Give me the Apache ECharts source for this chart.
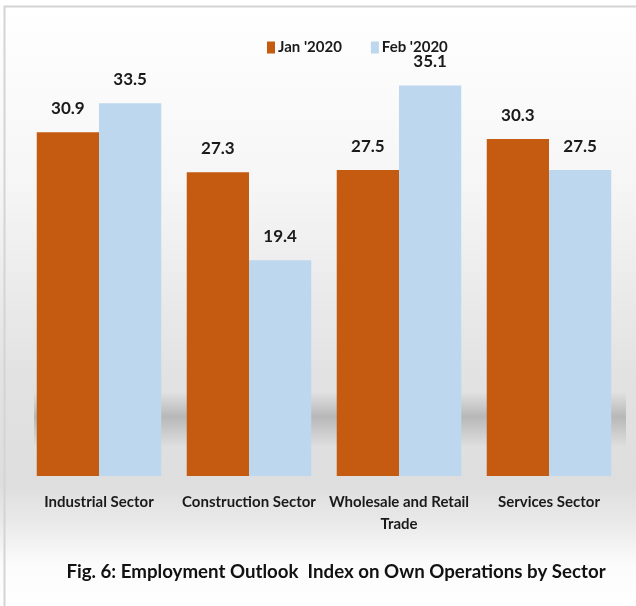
<!DOCTYPE html>
<html>
<head>
<meta charset="utf-8">
<script src="https://cdn.jsdelivr.net/npm/echarts@6/dist/echarts.min.js"></script>
<style>
  html, body { margin: 0; padding: 0; background: #fff; }
  #chart { width: 636px; height: 606px; }
</style>
</head>
<body>
<div id="chart"></div>
<script>
// 数据
const sectors = ['Industrial Sector', 'Construction Sector', 'Wholesale and Retail\nTrade', 'Services Sector'];
const janValues = [30.9, 27.3, 27.5, 30.3];
const febValues = [33.5, 19.4, 35.1, 27.5];
const seriesNames = ["Jan '2020", "Feb '2020"];

const font = 'Lato, "Open Sans", sans-serif';
const chart = echarts.init(document.getElementById('chart'));

const option = {
  backgroundColor: {
    type: 'linear', x: 0, y: 0, x2: 0, y2: 1,
    colorStops: [
      { offset: 0, color: '#ffffff' },
      { offset: 0.3, color: '#f6f6f6' },
      { offset: 0.62, color: '#e2e2e2' },
      { offset: 0.8, color: '#dedede' },
      { offset: 0.86, color: '#e9e9e9' },
      { offset: 0.93, color: '#fbfbfb' },
      { offset: 1, color: '#ffffff' }
    ]
  },
  graphic: [
    // 外边框
    {
      type: 'rect', z: 100, silent: true,
      shape: { x: 4.5, y: 6.5, width: 640, height: 610 },
      style: { fill: 'none', stroke: '#d4d4d4', lineWidth: 2 }
    },
    // 地面阴影带
    {
      type: 'rect', z: -1, silent: true,
      shape: { x: 34, y: 392, width: 592, height: 55 },
      style: {
        fill: {
          type: 'linear', x: 0, y: 0, x2: 0, y2: 1,
          colorStops: [
            { offset: 0, color: 'rgba(150,150,150,0)' },
            { offset: 0.45, color: 'rgba(150,150,150,0.55)' },
            { offset: 1, color: 'rgba(150,150,150,0)' }
          ]
        }
      }
    }
  ],
  title: {
    text: 'Fig. 6: Employment Outlook  Index on Own Operations by Sector',
    left: 331,
    textAlign: 'center',
    top: 557,
    textStyle: { fontFamily: font, fontSize: 18.7, fontWeight: 'bold', color: '#111' }
  },
  legend: {
    data: seriesNames,
    top: 35,
    left: 262,
    itemWidth: 8,
    itemHeight: 12,
    itemGap: 29,
    icon: 'rect',
    textStyle: { fontFamily: font, fontSize: 15, fontWeight: 'bold', color: '#1a1a1a', padding: [0, 0, 0, -2] }
  },
  grid: {
    left: 24,
    right: 12,
    top: 31,
    bottom: 130,
    containLabel: false
  },
  xAxis: {
    type: 'category',
    data: sectors,
    axisLine: { show: false },
    axisTick: { show: false },
    axisLabel: {
      interval: 0,
      margin: 15,
      fontFamily: font,
      fontSize: 15,
      fontWeight: 'bold',
      color: '#1a1a1a',
      lineHeight: 22
    }
  },
  yAxis: {
    type: 'value',
    min: 0,
    max: 40,
    show: false,
    splitLine: { show: false }
  },
  series: [
    {
      name: seriesNames[0],
      type: 'bar',
      data: janValues,
      barGap: '0%',
      barCategoryGap: '17%',
      itemStyle: { color: '#c55a11' },
      label: {
        show: true,
        position: 'top',
        distance: 15,
        fontFamily: font,
        fontSize: 17,
        fontWeight: 'bold',
        color: '#1a1a1a'
      }
    },
    {
      name: seriesNames[1],
      type: 'bar',
      data: febValues,
      barGap: '0%',
      barCategoryGap: '17%',
      itemStyle: { color: '#bdd7ee' },
      label: {
        show: true,
        position: 'top',
        distance: 15,
        fontFamily: font,
        fontSize: 17,
        fontWeight: 'bold',
        color: '#1a1a1a'
      }
    }
  ]
};

chart.setOption(option);
</script>
</body>
</html>
